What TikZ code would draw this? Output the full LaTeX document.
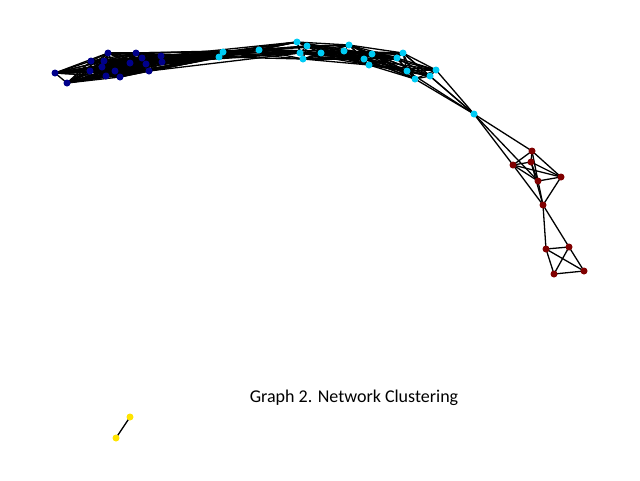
\documentclass[tikz,border=0pt]{standalone}
\usepackage{fontspec}
\setmainfont{Carlito}
\usetikzlibrary{backgrounds}
\definecolor{clnavy}{RGB}{0,0,139}
\definecolor{clcyan}{RGB}{0,204,245}
\definecolor{clred}{RGB}{128,0,0}
\definecolor{clyellow}{RGB}{255,228,0}

\begin{document}
\begin{tikzpicture}[x=1pt,y=-1pt,
  vtx/.style={circle,inner sep=0pt,minimum size=7pt},
  edge/.style={black,line width=1.3pt}]
\useasboundingbox (0,0) rectangle (640,480);
\foreach \n/\x/\y in {1/55/73,2/67/83,3/91/61,4/90/71,5/102/67,6/104/61,7/108/53,8/106/76,9/115/71,
  10/120/77,11/130/63,12/136/53,13/142/58,14/146/64,15/149/71,16/161/56,17/162/62}
{
\node[vtx,fill=clnavy] (b\n) at (\x,\y) {};
}
\foreach \n/\x/\y in {1/219/57,2/223/52,3/259/50,4/297/42,5/307/46,6/300/53,7/303/59,8/321/53,9/344/51,
  10/349/45,11/364/59,12/372/54,13/369/65,14/397/58,15/403/53,16/407/71,17/415/79,18/430/76,19/436/70,20/474/114}
{
\node[vtx,fill=clcyan] (c\n) at (\x,\y) {};
}
\foreach \n/\x/\y in {1/532/151,2/513/165,3/531/162,4/538/181,5/561/177,6/543/205,7/546/249,8/569/247,9/554/274,10/584/271}
{
\node[vtx,fill=clred] (r\n) at (\x,\y) {};
}
\node[vtx,fill=clyellow] (y1) at (130,417) {};
\node[vtx,fill=clyellow] (y2) at (116,438) {};
\node[font=\fontsize{18}{22}\selectfont] (title) at (354,398) {Graph 2. Network Clustering};

\begin{scope}[on background layer]
% dark blue cluster
\foreach \i [evaluate=\i as \k using int(\i+1)] in {1,...,16}
  \foreach \j in {\k,...,17}
    \draw[edge] (b\i.center) -- (b\j.center);
\foreach \i in {1,...,17}
{
\draw[edge] (b\i.center) -- (c1.center);
\draw[edge] (b\i.center) -- (c2.center);
}
\foreach \i in {11,...,17}
  \draw[edge] (b\i.center) -- (c3.center);
\foreach \i in {14,...,17}
  \foreach \j in {4,6}
    \draw[edge] (b\i.center) -- (c\j.center);
% light blue cluster
\foreach \j in {3,...,7}
{
\draw[edge] (c1.center) -- (c\j.center);
\draw[edge] (c2.center) -- (c\j.center);
}
\draw[edge] (c1.center) -- (c2.center);
\foreach \i [evaluate=\i as \k using int(\i+1)] in {3,...,18}
  \foreach \j in {\k,...,19}
  {
    \ifnum\numexpr\j-\i\relax<9
      \draw[edge] (c\i.center) -- (c\j.center);
    \fi
  }
\foreach \i in {15,...,19}
  \draw[edge] (c\i.center) -- (c20.center);
\foreach \i in {1,2,4}
  \draw[edge] (c20.center) -- (r\i.center);
% red cluster
\foreach \a/\b in {1/2,1/3,1/4,1/5,2/3,2/4,2/5,2/6,3/4,3/5,3/6,4/5,4/6,5/6,
  6/7,6/8,7/8,7/9,7/10,8/9,8/10,9/10}
  \draw[edge] (r\a.center) -- (r\b.center);
\draw[edge] (y1.center) -- (y2.center);
\end{scope}
\end{tikzpicture}
\end{document}
